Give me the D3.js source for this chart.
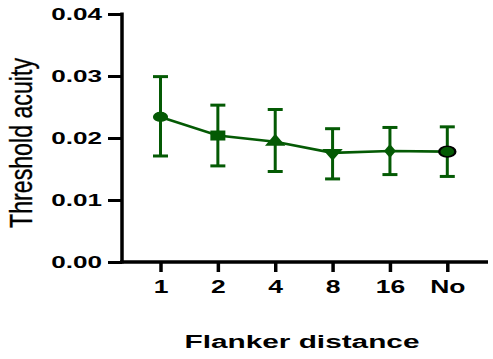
<!DOCTYPE html>
<html><head><meta charset="utf-8">
<script src="https://cdn.jsdelivr.net/npm/d3@7"></script>
<style>
html,body{margin:0;padding:0;background:#fff;}
svg{display:block;}
text{font-family:"Liberation Sans",Arial,sans-serif;fill:#000;}
</style></head>
<body>
<svg id="chart" width="493" height="359"></svg>
<script>
const categories = ["1","2","4","8","16","No"];
const means = [0.0234, 0.0204, 0.0194, 0.0176, 0.0179, 0.0178];
const upper = [0.0299, 0.0253, 0.0246, 0.0215, 0.0217, 0.0218];
const lower = [0.0171, 0.0155, 0.0146, 0.0134, 0.0141, 0.0138];
const yTicks = [0, 0.01, 0.02, 0.03, 0.04];
const markers = ["circle","square","triangle","triangleDown","diamond","circleOutlined"];

const green = "#045a04";
const svg = d3.select("#chart");
const x = d3.scalePoint().domain(categories).range([160.5, 447.3]);
const y = d3.scaleLinear().domain([0, 0.04]).range([262, 14]);

function stretchText(sel, k) {
  sel.each(function(){
    const len = this.getComputedTextLength();
    d3.select(this).attr("textLength", len * k).attr("lengthAdjust", "spacingAndGlyphs");
  });
}

// Y axis
const yAxis = svg.append("g").attr("transform", "translate(122,0)")
  .call(d3.axisLeft(y).tickValues(yTicks).tickFormat(d3.format(".2f")).tickSize(14).tickPadding(6));
yAxis.select(".domain").remove();
yAxis.selectAll(".tick line").attr("stroke", "#000").attr("stroke-width", 3);
yAxis.selectAll(".tick text").attr("font-size", 16.5).attr("font-weight", "bold")
  .attr("font-family", "Liberation Sans, Arial, sans-serif").attr("fill", "#000").attr("dy", "0.36em")
  .call(stretchText, 1.58);
svg.append("line").attr("x1", 122).attr("x2", 122).attr("y1", y(0.04) - 1.5).attr("y2", y(0) + 1.5)
  .attr("stroke", "#000").attr("stroke-width", 3.5);

// X axis
const xAxis = svg.append("g").attr("transform", "translate(0," + y(0) + ")")
  .call(d3.axisBottom(x).tickSize(10).tickPadding(8));
xAxis.select(".domain").remove();
xAxis.selectAll(".tick line").attr("stroke", "#000").attr("stroke-width", 3.5);
xAxis.selectAll(".tick text").attr("font-size", 18).attr("font-weight", "bold")
  .attr("font-family", "Liberation Sans, Arial, sans-serif").attr("fill", "#000").attr("dy", "0.71em")
  .call(stretchText, 1.47);
svg.append("line").attr("x1", 120).attr("x2", 488).attr("y1", y(0)).attr("y2", y(0))
  .attr("stroke", "#000").attr("stroke-width", 3.5);

// Axis titles
svg.append("text").attr("x", 302).attr("y", 348).attr("text-anchor", "middle")
  .attr("font-size", 17.5).attr("font-weight", "bold").text("Flanker distance")
  .attr("textLength", 235).attr("lengthAdjust", "spacingAndGlyphs");
svg.append("text").attr("transform", "translate(32,143) rotate(-90) scale(1,1.45)")
  .attr("text-anchor", "middle").attr("font-size", 22).attr("stroke", "#000").attr("stroke-width", 0.25)
  .text("Threshold acuity")
  .attr("textLength", 170).attr("lengthAdjust", "spacingAndGlyphs");

// Data
const data = categories.map((c, i) => ({c, m: means[i], hi: upper[i], lo: lower[i], mk: markers[i]}));
const plot = svg.append("g");

// Error bars
const eb = plot.selectAll(".eb").data(data).enter().append("g");
eb.append("line").attr("x1", d => x(d.c)).attr("x2", d => x(d.c))
  .attr("y1", d => y(d.hi)).attr("y2", d => y(d.lo)).attr("stroke", green).attr("stroke-width", 3);
eb.append("line").attr("x1", d => x(d.c) - 7.5).attr("x2", d => x(d.c) + 7.5)
  .attr("y1", d => y(d.hi)).attr("y2", d => y(d.hi)).attr("stroke", green).attr("stroke-width", 3);
eb.append("line").attr("x1", d => x(d.c) - 7.5).attr("x2", d => x(d.c) + 7.5)
  .attr("y1", d => y(d.lo)).attr("y2", d => y(d.lo)).attr("stroke", green).attr("stroke-width", 3);

// Line
plot.append("path").datum(data)
  .attr("d", d3.line().x(d => x(d.c)).y(d => y(d.m)))
  .attr("fill", "none").attr("stroke", green).attr("stroke-width", 2.6);

// Markers
const symMap = {
  circle: d3.symbolCircle, square: d3.symbolSquare, triangle: d3.symbolTriangle,
  triangleDown: d3.symbolTriangle, diamond: d3.symbolDiamond, circleOutlined: d3.symbolCircle
};
const sizeMap = {circle: 80, square: 100, triangle: 80, triangleDown: 80, diamond: 55, circleOutlined: 90};
plot.selectAll(".mk").data(data).enter().append("path")
  .attr("d", d => d3.symbol().type(symMap[d.mk]).size(sizeMap[d.mk])())
  .attr("transform", d => "translate(" + x(d.c) + "," + y(d.m) + ") scale(1.5,1)" + (d.mk === "triangleDown" ? " rotate(180)" : ""))
  .attr("fill", green)
  .attr("stroke", d => d.mk === "circleOutlined" ? "#000" : "none")
  .attr("stroke-width", 1.6);
</script>
</body></html>
